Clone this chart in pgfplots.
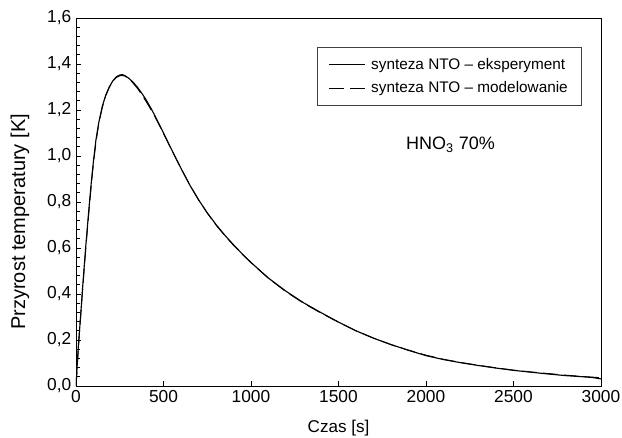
\documentclass[border=0pt]{standalone}
\usepackage{fontspec}
\setmainfont{Liberation Sans}
\usepackage{pgfplots}
\pgfplotsset{compat=1.18}
\usetikzlibrary{calc}

% experiment (solid) and model (dashed): time [s], temperature rise [K]
\pgfplotstableread{
t y
0 0
4 0.05
8 0.11
14 0.18
20 0.24
28 0.32
36 0.41
45 0.50
55 0.60
65 0.69
76 0.79
88 0.89
100 0.98
114 1.07
130 1.145
150 1.215
170 1.265
190 1.300
210 1.326
230 1.344
250 1.352
265 1.354
280 1.349
300 1.339
325 1.322
350 1.300
375 1.274
400 1.245
425 1.212
450 1.177
475 1.139
500 1.100
550 1.022
600 0.946
650 0.874
700 0.810
750 0.753
800 0.702
850 0.656
900 0.614
950 0.574
1000 0.537
1100 0.469
1200 0.412
1300 0.362
1400 0.319
1500 0.278
1600 0.240
1700 0.208
1800 0.180
1900 0.155
2000 0.132
2100 0.115
2200 0.101
2300 0.089
2400 0.078
2500 0.068
2600 0.060
2700 0.052
2800 0.045
2900 0.040
2950 0.037
3000 0.031
}\exper

\pgfplotstableread{
t y
0 0
5 0.06
10 0.12
20 0.235
30 0.34
40 0.44
50 0.54
60 0.635
70 0.725
80 0.81
90 0.895
100 0.97
115 1.065
130 1.14
150 1.21
170 1.262
190 1.298
210 1.324
230 1.341
250 1.349
265 1.350
280 1.347
300 1.337
325 1.318
350 1.295
375 1.268
400 1.238
425 1.206
450 1.172
475 1.136
500 1.098
550 1.021
600 0.946
650 0.875
700 0.810
750 0.752
800 0.700
850 0.654
900 0.612
950 0.573
1000 0.536
1100 0.468
1200 0.410
1300 0.360
1400 0.317
1500 0.277
1600 0.240
1700 0.208
1800 0.180
1900 0.156
2000 0.134
2100 0.116
2200 0.102
2300 0.090
2400 0.079
2500 0.069
2600 0.061
2700 0.054
2800 0.047
2900 0.041
3000 0.036
}\model

\begin{document}
\begin{tikzpicture}
\begin{axis}[
  name=ax,
  scale only axis,
  width=393.75pt, height=276pt,
  xmin=0, xmax=3000, ymin=0, ymax=1.6,
  xtick={0,500,...,3000},
  ytick={0,0.2,...,1.6},
  minor y tick num=4,
  tick pos=left,
  tick align=inside,
  major tick length=4pt,
  minor tick length=3pt,
  tick style={black, line width=0.5pt},
  axis line style={line width=0.6pt},
  /pgf/number format/assume math mode=true,
  xticklabel style={font=\fontsize{13}{15}\selectfont, /pgf/number format/1000 sep={}},
  yticklabel style={font=\fontsize{13}{15}\selectfont,
    /pgf/number format/.cd, fixed, fixed zerofill, precision=1, use comma},
  xlabel={Czas [s]},
  ylabel={Przyrost temperatury [K]},
  xlabel style={font=\fontsize{12.8}{15}\selectfont,
    at={($(axis description cs:0.5,0)+(0,-31.5pt)$)}, anchor=center},
  ylabel style={font=\fontsize{15}{17}\selectfont,
    at={($(axis description cs:0,0.446)+(-42pt,0)$)}, anchor=center},
  legend style={at={(rel axis cs:0.964,0.921)}, anchor=north east,
    draw=black!75, line width=0.5pt,
    font=\fontsize{11.5}{13}\selectfont,
    inner xsep=8.5pt, inner ysep=6pt,
    row sep=4pt, cells={anchor=west}},
  legend image code/.code={\draw[#1] (0pt,0pt) -- (27pt,0pt);},
]
\addplot[black, line width=0.85pt] table[x=t, y=y] {\exper};
\addlegendentry{\hspace{2pt}synteza NTO – eksperyment\hspace{19pt}}
\addplot[black, line width=0.7pt, dash pattern=on 11pt off 4.5pt] table[x=t, y=y] {\model};
\addlegendentry{\hspace{2pt}synteza NTO – modelowanie}
\node[font=\fontsize{13.5}{15}\selectfont] at (axis cs:2140,1.05) {HNO\textsubscript{3} 70\%};
\end{axis}
\pgfresetboundingbox
\path[use as bounding box] ($(ax.south west)+(-57pt,-39pt)$) rectangle ($(ax.north east)+(15.75pt,13.5pt)$);
\end{tikzpicture}
\end{document}
